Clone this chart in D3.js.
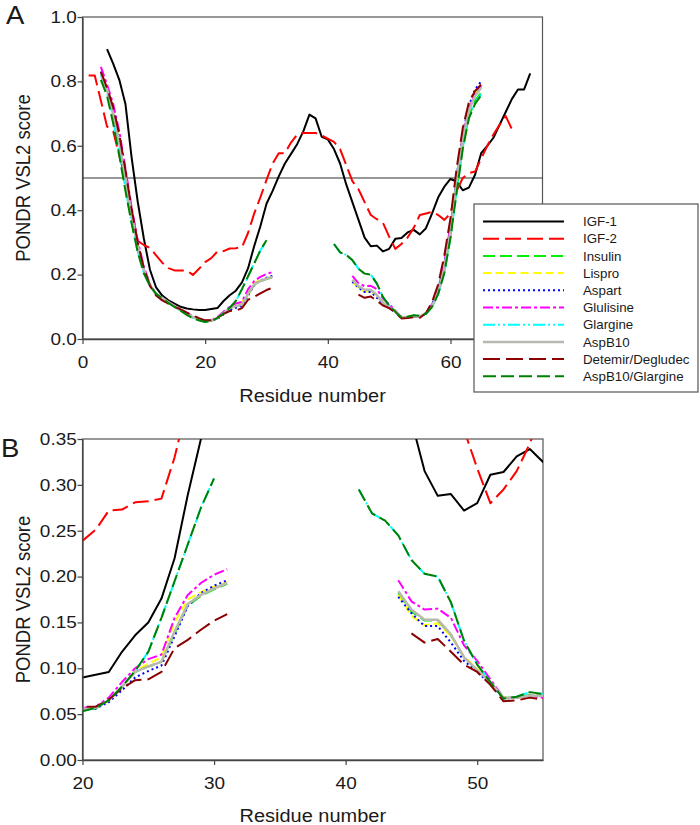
<!DOCTYPE html>
<html><head><meta charset="utf-8">
<script src="https://cdn.jsdelivr.net/npm/d3@7/dist/d3.min.js"></script>
<style>
body{margin:0;background:#fff}
svg{display:block}
text{font-family:"Liberation Sans",Arial,Helvetica,sans-serif;fill:#1a1a1a}
</style>
</head><body>
<svg id="chart" width="700" height="825"></svg>
<script>
// ---------- DATA ----------
const seriesNames = ["IGF-1","IGF-2","Insulin","Lispro","Aspart","Glulisine","Glargine","AspB10","Detemir/Degludec","AspB10/Glargine"];

const aXTicks = [0,20,40,60];
const aYTicks = [0,0.2,0.4,0.6,0.8,1.0];
const bXTicks = [20,30,40,50];
const bYTicks = [0,0.05,0.10,0.15,0.20,0.25,0.30,0.35];
const thresholdValue = 0.5;

const igf1 = [[4,0.90],[5,0.855],[6,0.805],[7,0.73],[8,0.565],[9,0.427],[10,0.312],[11,0.215],[12,0.16],[13,0.135],[14,0.12],[15,0.11],[16,0.10],[17,0.095],[18,0.092],[19,0.09],[20,0.09],[21,0.093],[22,0.096],[23,0.118],[24,0.136],[25,0.15],[26,0.176],[27,0.22],[28,0.289],[29,0.35],[30,0.42],[31,0.46],[32,0.505],[33,0.545],[34,0.575],[35,0.605],[36,0.645],[37,0.697],[38,0.685],[39,0.628],[40,0.62],[41,0.59],[42,0.545],[43,0.48],[44,0.425],[45,0.37],[46,0.315],[47,0.288],[48,0.29],[49,0.272],[50,0.28],[51,0.311],[52,0.314],[53,0.331],[54,0.339],[55,0.325],[56,0.344],[57,0.39],[58,0.44],[59,0.473],[60,0.497],[61,0.489],[62,0.462],[63,0.47],[64,0.51],[65,0.577],[66,0.60],[67,0.625],[68,0.665],[69,0.705],[70,0.745],[71,0.775],[72,0.775],[73,0.825]];

const igf2 = [[1,0.818],[2,0.818],[3,0.74],[4,0.66],[5,0.645],[6,0.57],[7,0.50],[8,0.40],[9,0.305],[10,0.292],[11,0.283],[12,0.26],[13,0.237],[14,0.22],[15,0.213],[16,0.213],[17,0.213],[18,0.199],[19,0.218],[20,0.239],[21,0.251],[22,0.272],[23,0.273],[24,0.281],[25,0.282],[26,0.285],[27,0.33],[28,0.39],[29,0.44],[30,0.494],[31,0.545],[32,0.577],[33,0.577],[34,0.61],[35,0.635],[36,0.64],[37,0.64],[38,0.64],[39,0.632],[40,0.622],[41,0.612],[42,0.59],[43,0.54],[44,0.49],[45,0.465],[46,0.425],[47,0.385],[48,0.372],[49,0.36],[50,0.318],[51,0.28],[52,0.295],[53,0.315],[54,0.345],[55,0.385],[56,0.39],[57,0.395],[58,0.385],[59,0.37],[60,0.39],[61,0.46],[62,0.50],[63,0.515],[64,0.52],[65,0.56],[66,0.60],[67,0.635],[68,0.665],[69,0.692],[70,0.652],[70.5,0.665]];

const insulin = [[3,0.825],[4,0.775],[5,0.70],[6,0.61],[7,0.50],[8,0.385],[9,0.29],[10,0.215],[11,0.167],[12,0.14],[13,0.127],[14,0.114],[15,0.102],[16,0.09],[17,0.079],[18,0.068],[19,0.06],[20,0.055],[21,0.056],[22,0.065],[23,0.08],[24,0.096],[25,0.102],[26,0.107],[27,0.138],[28,0.168],[29,0.179],[30,0.186],[31,0.192],[32,null],
 [44,0.182],[45,0.162],[46,0.152],[47,0.152],[48,0.136],[49,0.112],[50,0.098],[51,0.085],[52,0.068],[53,0.068],[54,0.071],[55,0.071],[56,0.079],[57,0.1],[58,0.142],[59,0.212],[60,0.32],[61,0.465],[62,0.6],[63,0.69],[64,0.74],[65,0.765]];

const lispro = [[3,0.828],[4,0.778],[5,0.705],[6,0.615],[7,0.505],[8,0.39],[9,0.294],[10,0.218],[11,0.168],[12,0.14],[13,0.127],[14,0.114],[15,0.102],[16,0.09],[17,0.079],[18,0.068],[19,0.06],[20,0.055],[21,0.057],[22,0.065],[23,0.08],[24,0.097],[25,0.105],[26,0.112],[27,0.15],[28,0.175],[29,0.183],[30,0.189],[31,0.194],[32,null],
 [44,0.18],[45,0.157],[46,0.147],[47,0.149],[48,0.135],[49,0.113],[50,0.099],[51,0.085],[52,0.068],[53,0.068],[54,0.07],[55,0.07],[56,0.08],[57,0.104],[58,0.15],[59,0.225],[60,0.34],[61,0.495],[62,0.63],[63,0.715],[64,0.76],[65,0.785]];

const aspart = [[3,0.83],[4,0.78],[5,0.708],[6,0.62],[7,0.51],[8,0.393],[9,0.296],[10,0.218],[11,0.168],[12,0.14],[13,0.127],[14,0.114],[15,0.102],[16,0.09],[17,0.079],[18,0.068],[19,0.06],[20,0.055],[21,0.056],[22,0.063],[23,0.076],[24,0.09],[25,0.097],[26,0.103],[27,0.135],[28,0.168],[29,0.182],[30,0.19],[31,0.196],[32,null],
 [44,0.178],[45,0.16],[46,0.146],[47,0.146],[48,0.128],[49,0.108],[50,0.096],[51,0.083],[52,0.067],[53,0.068],[54,0.07],[55,0.07],[56,0.081],[57,0.108],[58,0.155],[59,0.235],[60,0.35],[61,0.505],[62,0.64],[63,0.725],[64,0.775],[65,0.80]];

const glulisine = [[3,0.845],[4,0.79],[5,0.73],[6,0.645],[7,0.53],[8,0.41],[9,0.305],[10,0.225],[11,0.17],[12,0.14],[13,0.128],[14,0.115],[15,0.104],[16,0.093],[17,0.082],[18,0.07],[19,0.062],[20,0.057],[21,0.058],[22,0.068],[23,0.085],[24,0.10],[25,0.11],[26,0.115],[27,0.155],[28,0.18],[29,0.193],[30,0.202],[31,0.208],[32,null],
 [44,0.196],[45,0.173],[46,0.164],[47,0.165],[48,0.155],[49,0.125],[50,0.108],[51,0.088],[52,0.068],[53,0.068],[54,0.07],[55,0.068],[56,0.08],[57,0.108],[58,0.155],[59,0.24],[60,0.35],[61,0.50],[62,0.632],[63,0.715],[64,0.76],[65,0.785]];

const glargine = [[3,0.82],[4,0.765],[5,0.68],[6,0.578],[7,0.468],[8,0.362],[9,0.272],[10,0.205],[11,0.165],[12,0.14],[13,0.127],[14,0.112],[15,0.10],[16,0.088],[17,0.075],[18,0.065],[19,0.058],[20,0.053],[21,0.057],[22,0.065],[23,0.08],[24,0.097],[25,0.118],[26,0.155],[27,0.195],[28,0.235],[29,0.275],[30,0.307],[31,null],
 [41,0.295],[42,0.269],[43,0.261],[44,0.245],[45,0.218],[46,0.203],[47,0.20],[48,0.172],[49,0.13],[50,0.104],[51,0.085],[52,0.067],[53,0.069],[54,0.074],[55,0.072],[56,0.078],[57,0.10],[58,0.14],[59,0.205],[60,0.315],[61,0.46],[62,0.595],[63,0.69],[64,0.735],[65,0.76]];

const aspB10 = [[3,0.825],[4,0.775],[5,0.70],[6,0.61],[7,0.50],[8,0.385],[9,0.29],[10,0.215],[11,0.167],[12,0.14],[13,0.127],[14,0.114],[15,0.102],[16,0.09],[17,0.079],[18,0.068],[19,0.06],[20,0.055],[21,0.057],[22,0.065],[23,0.08],[24,0.096],[25,0.102],[26,0.107],[27,0.14],[28,0.17],[29,0.18],[30,0.187],[31,0.193],[32,null],
 [44,0.184],[45,0.164],[46,0.153],[47,0.153],[48,0.137],[49,0.112],[50,0.098],[51,0.085],[52,0.068],[53,0.068],[54,0.07],[55,0.07],[56,0.08],[57,0.102],[58,0.147],[59,0.22],[60,0.335],[61,0.49],[62,0.625],[63,0.71],[64,0.755],[65,0.78]];

const detemir = [[3,0.83],[4,0.78],[5,0.72],[6,0.635],[7,0.525],[8,0.405],[9,0.30],[10,0.22],[11,0.165],[12,0.135],[13,0.12],[14,0.11],[15,0.10],[16,0.092],[17,0.082],[18,0.073],[19,0.065],[20,0.058],[21,0.058],[22,0.066],[23,0.078],[24,0.087],[25,0.088],[26,0.096],[27,0.122],[28,0.131],[29,0.142],[30,0.152],[31,0.159],[32,null],
 [45,0.138],[46,0.128],[47,0.132],[48,0.118],[49,0.104],[50,0.096],[51,0.082],[52,0.064],[53,0.065],[54,0.068],[55,0.066],[56,0.08],[57,0.115],[58,0.17],[59,0.26],[60,0.375],[61,0.53],[62,0.655],[63,0.735],[64,0.77],[65,0.79]];

const aspB10Glargine = [[3,0.805],[4,0.755],[5,0.67],[6,0.57],[7,0.46],[8,0.36],[9,0.27],[10,0.204],[11,0.165],[12,0.14],[13,0.127],[14,0.112],[15,0.10],[16,0.088],[17,0.075],[18,0.065],[19,0.058],[20,0.053],[21,0.057],[22,0.065],[23,0.08],[24,0.097],[25,0.118],[26,0.155],[27,0.195],[28,0.235],[29,0.275],[30,0.307],[31,null],
 [41,0.295],[42,0.269],[43,0.261],[44,0.245],[45,0.218],[46,0.203],[47,0.20],[48,0.172],[49,0.13],[50,0.104],[51,0.085],[52,0.067],[53,0.069],[54,0.074],[55,0.072],[56,0.078],[57,0.10],[58,0.14],[59,0.205],[60,0.315],[61,0.455],[62,0.59],[63,0.685],[64,0.73],[65,0.757]];

const seriesValues = [igf1, igf2, insulin, lispro, aspart, glulisine, glargine, aspB10, detemir, aspB10Glargine];

// ---------- STYLE ----------
const styles = {
  "IGF-1":            {color:"#000000", dash:null,               w:2},
  "IGF-2":            {color:"#ff0000", dash:"16,6",             w:2},
  "Insulin":          {color:"#00ee00", dash:"12,5",             w:2},
  "Lispro":           {color:"#ffff00", dash:"8,4.5",            w:2},
  "Aspart":           {color:"#0000ff", dash:"2,3",              w:2},
  "Glulisine":        {color:"#ff00ff", dash:"10,3,3,3",         w:2},
  "Glargine":         {color:"#00ffff", dash:"12,3,2,3,2,3",     w:2},
  "AspB10":           {color:"#b8b8ae", dash:null,               w:2.5},
  "Detemir/Degludec": {color:"#8b0000", dash:"17,6",             w:2},
  "AspB10/Glargine":  {color:"#008000", dash:"13,5",             w:2}
};

const svg = d3.select("#chart");
svg.append("rect").attr("width",700).attr("height",825).attr("fill","#fff");

const panels = [
  {id:"A", label:"A", xDom:[0,75], yDom:[0,1], left:82.5, right:542.5, top:17, bottom:339,
   xTicks:aXTicks, yTicks:aYTicks, yFmt:d3.format(".1f"), labelPos:[6,24], titleY:402, ref:true},
  {id:"B", label:"B", xDom:[20,55], yDom:[0,0.35], left:82.5, right:543, top:439, bottom:760,
   xTicks:bXTicks, yTicks:bYTicks, yFmt:d3.format(".2f"), labelPos:[1,457], titleY:822, ref:false}
];

panels.forEach(p => {
  const x = d3.scaleLinear().domain(p.xDom).range([p.left,p.right]);
  const y = d3.scaleLinear().domain(p.yDom).range([p.bottom,p.top]);
  const g = svg.append("g");

  g.append("clipPath").attr("id","clip"+p.id).append("rect")
    .attr("x",p.left).attr("y",p.top).attr("width",p.right-p.left).attr("height",p.bottom-p.top);

  // frame
  g.append("rect").attr("x",p.left).attr("y",p.top).attr("width",p.right-p.left).attr("height",p.bottom-p.top)
    .attr("fill","none").attr("stroke","#555").attr("stroke-width",1.2);

  if (p.ref) {
    g.append("line").attr("x1",p.left).attr("x2",p.right).attr("y1",y(thresholdValue)).attr("y2",y(thresholdValue))
      .attr("stroke","#333").attr("stroke-width",1.1);
  }

  const line = d3.line().defined(d => d[1] !== null).x(d => x(d[0])).y(d => y(d[1]));
  const curves = g.append("g").attr("clip-path","url(#clip"+p.id+")");
  seriesNames.forEach((name,i) => {
    const s = styles[name];
    curves.append("path").datum(seriesValues[i]).attr("d",line)
      .attr("fill","none").attr("stroke",s.color).attr("stroke-width",s.w)
      .attr("stroke-dasharray",s.dash).attr("stroke-linejoin","round");
  });

  const xAxis = g.append("g").attr("transform",`translate(0,${p.bottom})`)
    .call(d3.axisBottom(x).tickValues(p.xTicks).tickFormat(d3.format("d")).tickSize(5).tickSizeOuter(0).tickPadding(12));
  const yAxis = g.append("g").attr("transform",`translate(${p.left},0)`)
    .call(d3.axisLeft(y).tickValues(p.yTicks).tickFormat(p.yFmt).tickSize(5).tickSizeOuter(0).tickPadding(0));
  [xAxis,yAxis].forEach(a => {
    a.select(".domain").attr("stroke","#444").attr("stroke-width",1.3);
    a.selectAll(".tick line").attr("stroke","#444").attr("stroke-width",1.2);
    a.selectAll(".tick text").attr("font-size","16.5px").attr("fill","#1a1a1a")
      .attr("font-family",'"Liberation Sans",Arial,sans-serif').attr("transform","scale(1.15,1)");
  });

  // axis titles
  g.append("text").attr("transform",`translate(${(p.left+p.right)/2},${p.titleY}) scale(1.08,1)`)
    .attr("text-anchor","middle").attr("font-size","18.5px").text("Residue number");
  g.append("text").attr("transform",`translate(30,${(p.top+p.bottom)/2}) rotate(-90) scale(1,1.1)`)
    .attr("text-anchor","middle").attr("font-size","18.5px").text("PONDR VSL2 score");

  // panel letter
  g.append("text").attr("transform",`translate(${p.labelPos[0]},${p.labelPos[1]}) scale(1.1,1)`)
    .attr("font-size","25px").text(p.label);
});

// ---------- LEGEND (panel A) ----------
const lg = svg.append("g");
lg.append("rect").attr("x",474).attr("y",204).attr("width",224).attr("height",188)
  .attr("fill","#fff").attr("stroke","#555").attr("stroke-width",1.2);
seriesNames.forEach((name,i) => {
  const s = styles[name];
  const yy = 221.5 + i*17.2;
  lg.append("line").attr("x1",483).attr("x2",564).attr("y1",yy).attr("y2",yy)
    .attr("stroke",s.color).attr("stroke-width",s.w).attr("stroke-dasharray",s.dash);
  lg.append("text").attr("x",583).attr("y",yy).attr("dy","0.36em").attr("font-size","13.3px").text(name);
});
</script>
</body></html>
